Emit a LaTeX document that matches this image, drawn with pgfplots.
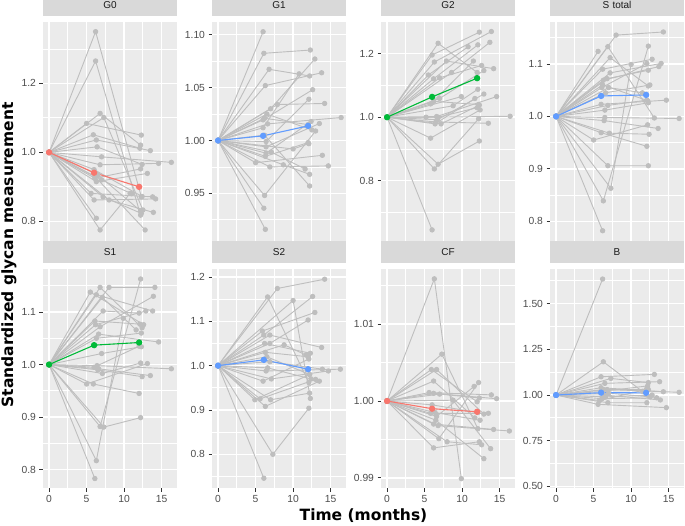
\documentclass[border=0pt]{standalone}
\usepackage{fontspec}
\setmainfont{Liberation Sans}
\newfontfamily\dejavu{DejaVu Sans}
\usepackage{pgfplots}
\pgfplotsset{compat=1.18}

\definecolor{panelbg}{HTML}{EBEBEB}
\definecolor{stripbg}{HTML}{D9D9D9}
\definecolor{striptxt}{HTML}{1A1A1A}
\definecolor{lgray}{HTML}{BEBEBE}
\definecolor{tickc}{HTML}{333333}
\definecolor{labc}{HTML}{4D4D4D}
\definecolor{gred}{HTML}{F8766D}
\definecolor{ggreen}{HTML}{00BA38}
\definecolor{gblue}{HTML}{619CFF}

\pgfplotsset{
  facet/.style={
    scale only axis, width=134pt, height=219pt,
    anchor=south west,
    xmin=-0.81, xmax=17.05,
    axis background/.style={fill=panelbg},
    axis line style={draw=none},
    grid=both,
    major grid style={white, line width=1.5pt},
    minor grid style={white, line width=0.75pt},
    xtick={0,5,10,15}, minor xtick={2.5,7.5,12.5},
    tick align=outside, tick pos=left,
    major tick length=3.5pt, minor tick length=0pt,
    major tick style={color=tickc, line width=0.9pt},
    /pgf/number format/assume math mode=true,
    ticklabel style={font=\fontsize{10.3}{12}\selectfont, text=labc},
    title style={at={(0.5,1)}, anchor=south, yshift=0pt, fill=stripbg,
      text=striptxt, text width=134pt, align=center, minimum height=21.5pt,
      inner sep=0pt, font=\fontsize{10}{12}\selectfont},
  },
  toprow/.style={xticklabels={\empty}, major x tick style={draw=none}},
  botrow/.style={xticklabels={0,5,10,15}},
  g/.style={lgray, line width=0.9pt, mark=*, mark size=2.2pt,
    mark options={fill=lgray, draw=lgray}},
  mean/.style={#1, line width=1.1pt, mark=*, mark size=2.6pt,
    mark options={fill=#1, draw=#1}},
}

\begin{document}
\begin{tikzpicture}
\useasboundingbox (0pt,0pt) rectangle (685pt,525pt);

% ---- G0
\begin{axis}[facet, toprow, at={(43pt,284pt)}, title={G0},
  ymin=0.743, ymax=1.378, ytick={0.8,1.0,1.2}, yticklabels={0.8,1.0,1.2},
  minor ytick={0.9,1.1,1.3}]
\addplot[g] coordinates {(0,1)(6.2,1.350)(12.3,0.871)};
\addplot[g] coordinates {(0,1)(6.2,1.265)(12.2,0.818)};
\addplot[g] coordinates {(0,1)(5.0,1.084)(12.3,1.050)};
\addplot[g] coordinates {(0,1)(6.8,1.113)(12.2,1.021)};
\addplot[g] coordinates {(0,1)(7.3,1.101)(12.5,0.833)};
\addplot[g] coordinates {(0,1)(5.9,1.051)(12.1,1.012)};
\addplot[g] coordinates {(0,1)(6.3,1.036)(13.5,1.005)};
\addplot[g] coordinates {(0,1)(6.4,1.016)(12.4,0.965)};
\addplot[g] coordinates {(0,1)(7.0,0.987)(16.3,0.971)};
\addplot[g] coordinates {(0,1)(6.8,0.964)(14.6,0.968)};
\addplot[g] coordinates {(0,1)(6.1,0.925)(12.2,0.952)};
\addplot[g] coordinates {(0,1)(6.3,0.915)(13.1,0.939)};
\addplot[g] coordinates {(0,1)(5.6,0.881)(13.8,0.871)};
\addplot[g] coordinates {(0,1)(6.0,0.862)(14.2,0.865)};
\addplot[g] coordinates {(0,1)(7.2,0.871)(12.3,0.823)};
\addplot[g] coordinates {(0,1)(8.0,0.862)(13.9,0.826)};
\addplot[g] coordinates {(0,1)(6.8,0.775)(10.8,0.881)};
\addplot[g] coordinates {(0,1)(6.3,0.809)};
\addplot[g] coordinates {(0,1)(6.1,0.930)(12.8,0.775)};
\addplot[g] coordinates {(0,1)(6.5,0.935)(12.2,0.830)};
\addplot[g] coordinates {(0,1)(6.0,0.950)(12.4,0.872)};
\addplot[g] coordinates {(0,1)(7.0,0.920)(11.0,0.880)};
\addplot[mean=gred] coordinates {(0,1)(6,0.941)(12,0.900)};
\end{axis}

% ---- G1
\begin{axis}[facet, toprow, at={(212pt,284pt)}, title={G1},
  ymin=0.905, ymax=1.112, ytick={0.95,1.00,1.05,1.10},
  yticklabels={0.95,1.00,1.05,1.10}, minor ytick={0.925,0.975,1.025,1.075}]
\addplot[g] coordinates {(0,1)(6.0,1.1028)};
\addplot[g] coordinates {(0,1)(6.1,1.0824)(12.3,1.0855)};
\addplot[g] coordinates {(0,1)(6.8,1.0673)(12.2,1.061)};
\addplot[g] coordinates {(0,1)(6.3,1.0519)(13.8,1.064)};
\addplot[g] coordinates {(0,1)(7.9,1.034)(14.2,1.035)};
\addplot[g] coordinates {(0,1)(7.0,1.030)(12.9,1.077)};
\addplot[g] coordinates {(0,1)(6.0,1.0195)(12.6,1.048)};
\addplot[g] coordinates {(0,1)(6.6,1.0157)(16.4,1.0217)};
\addplot[g] coordinates {(0,1)(6.4,0.999)(12.1,1.039)};
\addplot[g] coordinates {(0,1)(6.4,0.994)(13.5,1.016)};
\addplot[g] coordinates {(0,1)(6.4,0.988)(12.4,1.018)};
\addplot[g] coordinates {(0,1)(7.1,0.989)(11.6,0.973)};
\addplot[g] coordinates {(0,1)(5.0,0.979)(13.9,0.986)};
\addplot[g] coordinates {(0,1)(6.9,0.975)(14.7,0.976)};
\addplot[g] coordinates {(0,1)(6.2,0.948)(13.0,1.009)};
\addplot[g] coordinates {(0,1)(6.1,0.936)};
\addplot[g] coordinates {(0,1)(6.3,0.916)};
\addplot[g] coordinates {(0,1)(8.7,0.977)(12.2,0.968)};
\addplot[g] coordinates {(0,1)(10.0,0.992)(12.1,0.997)};
\addplot[g] coordinates {(0,1)(6.0,1.012)(10.8,1.063)};
\addplot[g] coordinates {(0,1)(6.2,1.005)(12.2,0.957)};
\addplot[g] coordinates {(0,1)(6.2,1.021)(12.0,1.015)};
\addplot[g] coordinates {(0,1)(6.5,1.025)(12.5,1.010)};
\addplot[g] coordinates {(0,1)(6.3,0.985)(12.0,0.998)};
\addplot[mean=gblue] coordinates {(0,1)(6,1.0044)(12,1.0138)};
\end{axis}

% ---- G2
\begin{axis}[facet, toprow, at={(381pt,284pt)}, title={G2},
  ymin=0.610, ymax=1.300, ytick={0.8,1.0,1.2}, yticklabels={0.8,1.0,1.2},
  minor ytick={0.7,0.9,1.1}]
\addplot[g] coordinates {(0,1)(6.8,1.233)(12.0,1.141)};
\addplot[g] coordinates {(0,1)(6.0,1.196)(12.3,1.268)};
\addplot[g] coordinates {(0,1)(6.3,1.174)(13.9,1.270)};
\addplot[g] coordinates {(0,1)(7.9,1.177)(14.2,1.153)};
\addplot[g] coordinates {(0,1)(5.5,1.133)(10.8,1.222)};
\addplot[g] coordinates {(0,1)(6.2,1.121)(12.1,1.228)};
\addplot[g] coordinates {(0,1)(7.0,1.124)(12.6,1.163)};
\addplot[g] coordinates {(0,1)(8.6,1.141)(13.7,1.236)};
\addplot[g] coordinates {(0,1)(5.8,1.042)(11.5,1.177)};
\addplot[g] coordinates {(0,1)(7.0,1.059)(12.9,1.147)};
\addplot[g] coordinates {(0,1)(8.8,1.036)(12.1,1.088)};
\addplot[g] coordinates {(0,1)(6.6,1.002)(14.6,1.065)};
\addplot[g] coordinates {(0,1)(6.7,0.992)(12.9,1.073)};
\addplot[g] coordinates {(0,1)(6.4,0.979)(11.7,1.059)};
\addplot[g] coordinates {(0,1)(7.2,0.979)(12.3,1.038)};
\addplot[g] coordinates {(0,1)(5.2,1.000)(16.4,1.003)};
\addplot[g] coordinates {(0,1)(5.8,0.934)(12.4,1.023)};
\addplot[g] coordinates {(0,1)(6.8,0.852)(12.3,0.925)};
\addplot[g] coordinates {(0,1)(6.3,0.837)(12.2,0.995)};
\addplot[g] coordinates {(0,1)(6.0,0.645)};
\addplot[g] coordinates {(0,1)(6.5,0.985)(13.5,0.981)};
\addplot[g] coordinates {(0,1)(9.9,1.065)};
\addplot[g] coordinates {(0,1)(6.2,1.050)(12.2,1.040)};
\addplot[g] coordinates {(0,1)(6.8,1.000)(12.0,1.030)};
\addplot[mean=ggreen] coordinates {(0,1)(6,1.064)(12,1.123)};
\end{axis}

% ---- S total
\begin{axis}[facet, toprow, at={(550pt,284pt)}, title={S total},
  ymin=0.7625, ymax=1.180, ytick={0.8,0.9,1.0,1.1},
  yticklabels={0.8,0.9,1.0,1.1}, minor ytick={0.85,0.95,1.05,1.15}]
\addplot[g] coordinates {(0,1)(8.0,1.155)(14.3,1.161)};
\addplot[g] coordinates {(0,1)(5.6,1.124)};
\addplot[g] coordinates {(0,1)(6.9,1.133)(13.1,0.997)};
\addplot[g] coordinates {(0,1)(7.2,1.112)(12.3,1.058)};
\addplot[g] coordinates {(0,1)(6.2,1.090)(12.8,1.109)};
\addplot[g] coordinates {(0,1)(7.2,1.083)(14.0,1.101)};
\addplot[g] coordinates {(0,1)(6.3,1.069)(13.7,1.095)};
\addplot[g] coordinates {(0,1)(6.8,1.072)(12.3,1.088)};
\addplot[g] coordinates {(0,1)(6.1,1.055)(12.1,1.101)};
\addplot[g] coordinates {(0,1)(7.0,1.055)(11.5,1.045)};
\addplot[g] coordinates {(0,1)(6.0,1.023)(14.7,1.031)};
\addplot[g] coordinates {(0,1)(6.9,1.021)(12.1,1.031)};
\addplot[g] coordinates {(0,1)(6.5,1.012)(12.3,1.026)};
\addplot[g] coordinates {(0,1)(6.5,0.998)(16.4,0.996)};
\addplot[g] coordinates {(0,1)(6.4,0.992)(13.6,0.977)};
\addplot[g] coordinates {(0,1)(7.3,0.863)(10.0,1.099)};
\addplot[g] coordinates {(0,1)(6.3,0.839)(12.3,1.134)};
\addplot[g] coordinates {(0,1)(5.0,0.955)(12.2,0.984)};
\addplot[g] coordinates {(0,1)(7.1,0.968)(12.4,0.966)};
\addplot[g] coordinates {(0,1)(6.9,0.906)(12.3,0.906)};
\addplot[g] coordinates {(0,1)(6.2,0.782)};
\addplot[g] coordinates {(0,1)(6.0,0.969)(12.1,0.943)};
\addplot[g] coordinates {(0,1)(6.2,1.060)(12.2,1.030)};
\addplot[g] coordinates {(0,1)(6.6,1.045)(12.5,1.060)};
\addplot[mean=gblue] coordinates {(0,1)(6,1.039)(12,1.041)};
\end{axis}

% ---- S1
\begin{axis}[facet, botrow, at={(43pt,37pt)}, title={S1},
  ymin=0.765, ymax=1.182, ytick={0.8,0.9,1.0,1.1},
  yticklabels={0.8,0.9,1.0,1.1}, minor ytick={0.85,0.95,1.05,1.15}]
\addplot[g] coordinates {(0,1)(5.5,1.138)(12.6,1.076)};
\addplot[g] coordinates {(0,1)(6.3,1.133)(13.8,1.102)};
\addplot[g] coordinates {(0,1)(6.8,1.147)(12.4,1.070)};
\addplot[g] coordinates {(0,1)(8.0,1.147)(14.1,1.147)};
\addplot[g] coordinates {(0,1)(7.1,1.128)(11.6,1.066)};
\addplot[g] coordinates {(0,1)(7.2,1.102)(12.0,1.098)};
\addplot[g] coordinates {(0,1)(6.1,1.083)(12.1,1.077)};
\addplot[g] coordinates {(0,1)(6.2,1.076)(12.9,1.102)};
\addplot[g] coordinates {(0,1)(6.8,1.072)(13.9,1.130)};
\addplot[g] coordinates {(0,1)(6.6,1.058)(14.6,1.043)};
\addplot[g] coordinates {(0,1)(7.0,1.021)(12.3,1.034)};
\addplot[g] coordinates {(0,1)(6.4,0.998)(16.3,0.992)};
\addplot[g] coordinates {(0,1)(6.6,0.992)(13.5,0.979)};
\addplot[g] coordinates {(0,1)(7.1,0.983)(12.2,1.003)};
\addplot[g] coordinates {(0,1)(5.0,0.963)(13.1,1.002)};
\addplot[g] coordinates {(0,1)(5.9,0.963)(12.0,0.945)};
\addplot[g] coordinates {(0,1)(6.8,0.882)(12.2,1.163)};
\addplot[g] coordinates {(0,1)(7.3,0.881)(12.2,0.899)};
\addplot[g] coordinates {(0,1)(6.3,0.817)(9.9,1.088)};
\addplot[g] coordinates {(0,1)(6.1,0.783)};
\addplot[g] coordinates {(0,1)(6.5,0.990)(12.4,0.977)};
\addplot[g] coordinates {(0,1)(6.3,1.050)(12.3,1.060)};
\addplot[g] coordinates {(0,1)(6.0,0.995)(12.0,1.035)};
\addplot[mean=ggreen] coordinates {(0,1)(6,1.037)(12,1.042)};
\end{axis}

% ---- S2
\begin{axis}[facet, botrow, at={(212pt,37pt)}, title={S2},
  ymin=0.724, ymax=1.218, ytick={0.8,0.9,1.0,1.1,1.2},
  yticklabels={0.8,0.9,1.0,1.1,1.2}, minor ytick={0.75,0.85,0.95,1.05,1.15}]
\addplot[g] coordinates {(0,1)(7.9,1.174)(14.2,1.195)};
\addplot[g] coordinates {(0,1)(6.6,1.155)(12.1,0.962)};
\addplot[g] coordinates {(0,1)(5.9,1.078)(12.9,1.120)};
\addplot[g] coordinates {(0,1)(6.1,1.069)(12.6,1.156)};
\addplot[g] coordinates {(0,1)(6.9,1.069)(13.8,1.041)};
\addplot[g] coordinates {(0,1)(6.2,1.050)(12.3,1.028)};
\addplot[g] coordinates {(0,1)(6.9,1.050)(12.0,1.103)};
\addplot[g] coordinates {(0,1)(8.8,1.047)(11.7,1.024)};
\addplot[g] coordinates {(0,1)(6.9,1.009)(13.9,0.992)};
\addplot[g] coordinates {(0,1)(6.4,0.988)(16.3,0.992)};
\addplot[g] coordinates {(0,1)(6.0,0.965)(12.1,1.015)};
\addplot[g] coordinates {(0,1)(7.1,0.970)(14.7,0.988)};
\addplot[g] coordinates {(0,1)(4.9,0.923)(12.2,0.980)};
\addplot[g] coordinates {(0,1)(5.6,0.925)(13.0,0.969)};
\addplot[g] coordinates {(0,1)(6.3,0.908)(13.5,0.965)};
\addplot[g] coordinates {(0,1)(7.0,0.923)(12.2,0.938)};
\addplot[g] coordinates {(0,1)(7.3,0.800)(12.1,0.904)};
\addplot[g] coordinates {(0,1)(6.1,0.746)};
\addplot[g] coordinates {(0,1)(10.0,1.147)(12.3,0.926)};
\addplot[g] coordinates {(0,1)(6.5,1.020)(12.2,0.980)};
\addplot[g] coordinates {(0,1)(6.3,1.030)(12.0,1.020)};
\addplot[g] coordinates {(0,1)(6.6,0.995)(12.4,0.970)};
\addplot[mean=gblue] coordinates {(0,1)(6.1,1.013)(12,0.992)};
\end{axis}

% ---- CF
\begin{axis}[facet, botrow, at={(381pt,37pt)}, title={CF},
  ymin=0.98868, ymax=1.01718, ytick={0.99,1.00,1.01},
  yticklabels={0.99,1.00,1.01}, minor ytick={0.995,1.005,1.015}]
\addplot[g] coordinates {(0,1)(6.3,1.0159)(9.9,0.9899)};
\addplot[g] coordinates {(0,1)(7.3,1.0061)(12.1,0.9964)};
\addplot[g] coordinates {(0,1)(5.9,1.0041)(12.0,0.9999)};
\addplot[g] coordinates {(0,1)(6.6,1.0041)(12.9,0.9983)};
\addplot[g] coordinates {(0,1)(6.2,1.0026)(11.7,0.9978)};
\addplot[g] coordinates {(0,1)(5.6,1.0011)(13.9,1.0008)};
\addplot[g] coordinates {(0,1)(6.2,1.0010)(14.6,1.0003)};
\addplot[g] coordinates {(0,1)(7.0,1.0009)(12.3,1.0004)};
\addplot[g] coordinates {(0,1)(5.8,0.9984)(13.5,0.9984)};
\addplot[g] coordinates {(0,1)(6.6,0.9980)(11.6,1.0019)};
\addplot[g] coordinates {(0,1)(6.2,0.9970)(14.2,0.9963)};
\addplot[g] coordinates {(0,1)(6.8,0.9968)(16.3,0.9961)};
\addplot[g] coordinates {(0,1)(6.9,0.9951)(12.2,1.0024)};
\addplot[g] coordinates {(0,1)(6.2,0.9939)(12.3,0.9947)};
\addplot[g] coordinates {(0,1)(8.0,0.9947)(12.6,0.9943)};
\addplot[g] coordinates {(0,1)(8.8,1.0001)(13.8,0.9938)};
\addplot[g] coordinates {(0,1)(6.5,0.9975)(12.9,0.9925)};
\addplot[g] coordinates {(0,1)(6.4,0.9985)(12.4,0.9975)};
\addplot[g] coordinates {(0,1)(6.0,0.9995)(12.1,0.9985)};
\addplot[mean=gred] coordinates {(0,1)(6,0.9990)(12,0.9986)};
\end{axis}

% ---- B
\begin{axis}[facet, botrow, at={(550pt,37pt)}, title={B},
  ymin=0.491, ymax=1.690, ytick={0.5,0.75,1.0,1.25,1.5},
  yticklabels={0.50,0.75,1.00,1.25,1.50},
  minor ytick={0.625,0.875,1.125,1.375,1.625}]
\addplot[g] coordinates {(0,1)(6.2,1.635)};
\addplot[g] coordinates {(0,1)(6.3,1.182)(11.5,1.020)};
\addplot[g] coordinates {(0,1)(6.0,1.100)(13.1,1.113)};
\addplot[g] coordinates {(0,1)(7.3,1.091)(12.3,1.068)};
\addplot[g] coordinates {(0,1)(6.5,1.064)(13.8,1.073)};
\addplot[g] coordinates {(0,1)(6.0,1.040)(14.3,1.018)};
\addplot[g] coordinates {(0,1)(6.8,1.030)(16.4,1.015)};
\addplot[g] coordinates {(0,1)(6.2,1.020)(12.2,1.050)};
\addplot[g] coordinates {(0,1)(6.4,1.000)(13.9,0.973)};
\addplot[g] coordinates {(0,1)(5.6,0.949)(14.7,0.931)};
\addplot[g] coordinates {(0,1)(6.9,0.958)(12.1,0.958)};
\addplot[g] coordinates {(0,1)(6.1,0.980)(13.4,0.985)};
\addplot[g] coordinates {(0,1)(7.0,1.010)(12.5,0.990)};
\addplot[g] coordinates {(0,1)(5.8,0.970)(12.0,1.030)};
\addplot[g] coordinates {(0,1)(6.3,1.030)(12.3,1.030)};
\addplot[g] coordinates {(0,1)(6.6,0.990)(12.8,1.000)};
\addplot[mean=gblue] coordinates {(0,1)(6,1.013)(12,1.012)};
\end{axis}

\node[rotate=90, font=\dejavu\bfseries\fontsize{15.5}{18}\selectfont] at (9pt,270pt) {Standardized glycan measurement};
\node[font=\dejavu\bfseries\fontsize{15.5}{18}\selectfont] at (363.5pt,9pt) {Time (months)};
\end{tikzpicture}
\end{document}
